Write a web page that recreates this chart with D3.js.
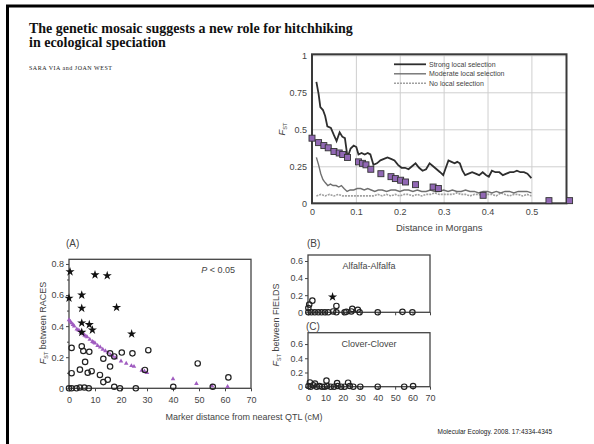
<!DOCTYPE html>
<html>
<head>
<meta charset="utf-8">
<script src="https://d3js.org/d3.v7.min.js"></script>
<style>
  body { margin: 0; background: #fff; }
  svg { display: block; font-family: "Liberation Sans", Arial, sans-serif; }
</style>
</head>
<body>
<div id="chart"></div>
<script>
// ---------- data ----------
const titleLines = [
  'The genetic mosaic suggests a new role for hitchhiking',
  'in ecological speciation'
];
const authors = 'SARA VIA and JOAN WEST';
const citation = 'Molecular Ecology. 2008. 17:4334-4345';

// top panel: simulated FST vs distance (Morgans)
const legendLabels = ['Strong local selection', 'Moderate local selection', 'No local selection'];
const strongSel = [
  [0.010, 0.82], [0.015, 0.74], [0.019, 0.65], [0.025, 0.63], [0.030, 0.59], [0.035, 0.52],
  [0.043, 0.51], [0.050, 0.46], [0.056, 0.42], [0.063, 0.48], [0.069, 0.45], [0.075, 0.44],
  [0.081, 0.31], [0.088, 0.37], [0.095, 0.39], [0.101, 0.38], [0.106, 0.33], [0.113, 0.34],
  [0.120, 0.33], [0.127, 0.34], [0.133, 0.33], [0.140, 0.26], [0.148, 0.27], [0.156, 0.29],
  [0.164, 0.30], [0.172, 0.31], [0.180, 0.30], [0.188, 0.29], [0.196, 0.26], [0.204, 0.24],
  [0.212, 0.24], [0.220, 0.23], [0.228, 0.25], [0.236, 0.27], [0.244, 0.24], [0.252, 0.22],
  [0.260, 0.23], [0.268, 0.27], [0.276, 0.25], [0.284, 0.23], [0.292, 0.21], [0.299, 0.19],
  [0.305, 0.24], [0.311, 0.29], [0.318, 0.28], [0.325, 0.27], [0.331, 0.28], [0.337, 0.27],
  [0.343, 0.22], [0.349, 0.19], [0.357, 0.20], [0.365, 0.21], [0.373, 0.20], [0.381, 0.19],
  [0.389, 0.21], [0.397, 0.19], [0.403, 0.18], [0.410, 0.22], [0.418, 0.21], [0.427, 0.21],
  [0.435, 0.19], [0.443, 0.20], [0.451, 0.21], [0.459, 0.21], [0.467, 0.22], [0.475, 0.21],
  [0.483, 0.21], [0.491, 0.20], [0.500, 0.17]
];
const moderateSel = [
  [0.010, 0.31], [0.015, 0.26], [0.020, 0.20], [0.025, 0.16], [0.030, 0.14], [0.036, 0.12],
  [0.042, 0.13], [0.048, 0.12], [0.055, 0.12], [0.061, 0.11], [0.067, 0.12], [0.073, 0.10],
  [0.080, 0.08], [0.087, 0.09], [0.095, 0.09], [0.103, 0.10], [0.111, 0.10], [0.119, 0.09],
  [0.127, 0.10], [0.135, 0.09], [0.143, 0.08], [0.151, 0.09], [0.160, 0.09], [0.170, 0.08],
  [0.180, 0.09], [0.190, 0.09], [0.200, 0.08], [0.210, 0.09], [0.220, 0.09], [0.230, 0.08],
  [0.240, 0.09], [0.250, 0.08], [0.260, 0.08], [0.270, 0.09], [0.280, 0.08], [0.290, 0.08],
  [0.300, 0.09], [0.310, 0.08], [0.320, 0.09], [0.330, 0.08], [0.340, 0.08], [0.350, 0.09],
  [0.360, 0.08], [0.370, 0.08], [0.380, 0.07], [0.390, 0.08], [0.400, 0.08], [0.410, 0.07],
  [0.420, 0.08], [0.430, 0.07], [0.440, 0.08], [0.450, 0.08], [0.460, 0.07], [0.470, 0.08],
  [0.480, 0.08], [0.490, 0.08], [0.500, 0.07]
];
const noSel = [
  [0.010, 0.05], [0.020, 0.06], [0.030, 0.05], [0.040, 0.06], [0.050, 0.05], [0.060, 0.06],
  [0.070, 0.05], [0.080, 0.05], [0.090, 0.05], [0.100, 0.05], [0.110, 0.05], [0.120, 0.05],
  [0.130, 0.05], [0.140, 0.05], [0.150, 0.06], [0.160, 0.05], [0.170, 0.06], [0.180, 0.05],
  [0.190, 0.06], [0.200, 0.05], [0.210, 0.06], [0.220, 0.06], [0.230, 0.05], [0.240, 0.06],
  [0.250, 0.05], [0.260, 0.06], [0.270, 0.06], [0.280, 0.07], [0.290, 0.06], [0.300, 0.06],
  [0.310, 0.06], [0.320, 0.06], [0.330, 0.07], [0.340, 0.06], [0.350, 0.06], [0.360, 0.05],
  [0.370, 0.06], [0.380, 0.06], [0.390, 0.05], [0.400, 0.06], [0.410, 0.06], [0.420, 0.05],
  [0.430, 0.07], [0.440, 0.06], [0.450, 0.05], [0.460, 0.06], [0.470, 0.06], [0.480, 0.05],
  [0.490, 0.06], [0.500, 0.05]
];
const markerDistM = [0, 0.015, 0.027, 0.037, 0.05, 0.062, 0.07, 0.081, 0.106, 0.115, 0.123,
  0.134, 0.157, 0.18, 0.19, 0.202, 0.213, 0.236, 0.276, 0.288, 0.39, 0.54, 0.587];
const markerFst = [0.44, 0.41, 0.39, 0.375, 0.35, 0.34, 0.33, 0.31, 0.28, 0.27, 0.26,
  0.23, 0.20, 0.18, 0.167, 0.156, 0.144, 0.126, 0.11, 0.10, 0.054, 0.018, 0.018];
const topXTicks = [0, 0.1, 0.2, 0.3, 0.4, 0.5];
const topYTicks = [0, 0.25, 0.5, 0.75, 1];

// panel A: FST between races vs distance to QTL (cM)
const racesSig = [
  [0.4, 0.75], [0, 0.58], [4.9, 0.60], [4.9, 0.515], [4.9, 0.42], [4.9, 0.36], [7.8, 0.41],
  [9, 0.375], [10, 0.73], [14.7, 0.725], [18.3, 0.52], [24.1, 0.35]
];
const racesNs = [
  [1, 0.26], [4.9, 0.27], [5.5, 0.24], [7.8, 0.235], [1, 0.097], [4.2, 0.12], [6.2, 0.17],
  [7.2, 0.10], [8.7, 0.11], [11.9, 0.086], [13.2, 0.04], [14.9, 0.055], [13.2, 0.19],
  [15.8, 0.14], [15.8, 0.225], [17.4, 0.205], [20.3, 0.23], [24.4, 0.225], [30.5, 0.245],
  [29.2, 0.118], [17.4, 0.01], [19.6, 0], [25.7, 0], [0, 0], [1, 0], [2.9, 0], [4.2, 0.005],
  [5.9, 0.005], [7.6, 0], [40.1, 0.01], [49.5, 0.16], [55.3, 0.01], [61.3, 0.07]
];
const expectedCm = [0, 0.5, 1, 1.5, 2, 3, 3.5, 4, 4.5, 5, 5.5, 6, 6.5, 7, 8, 9, 9.5, 10, 11,
  12, 13, 14, 15, 16, 17, 18, 20, 22, 24, 25, 28, 29, 30, 40, 49, 55, 61];
const expectedFst = [0.44, 0.43, 0.42, 0.41, 0.40, 0.38, 0.375, 0.37, 0.36, 0.355, 0.35, 0.34,
  0.335, 0.33, 0.315, 0.30, 0.295, 0.29, 0.275, 0.265, 0.25, 0.24, 0.23, 0.215, 0.205, 0.195,
  0.175, 0.16, 0.145, 0.14, 0.115, 0.11, 0.10, 0.06, 0.03, 0.015, 0.01];
const cmTicks = [0, 10, 20, 30, 40, 50, 60, 70];
const racesYTicks = [0, 0.2, 0.4, 0.6, 0.8];
const racesYMinor = [0.1, 0.3, 0.5, 0.7];

// panels B and C: FST between fields
const alfalfaSig = [[14.1, 0.18]];
const alfalfaNs = [
  [2.5, 0.136], [0.7, 0.09], [0.2, 0.05], [16.3, 0.074], [25.4, 0.04], [28.6, 0.03], [0.2, 0],
  [2, 0], [3.9, 0], [5.9, 0], [7.8, 0], [9.7, 0], [11.6, 0], [14.4, 0.01], [16.3, 0], [21, 0],
  [22, 0.005], [24.9, 0.01], [29.6, 0], [40, 0], [54.2, 0.005], [59.9, 0]
];
const cloverNs = [
  [1.1, 0.06], [4, 0.045], [10.6, 0.085], [16.7, 0.05], [23, 0.056], [0.3, 0.01], [1.5, 0],
  [3, 0.02], [5, 0], [6.5, 0.01], [8, 0], [9.5, 0], [11, 0.01], [13, 0], [15, 0], [17, 0.01],
  [19, 0], [21, 0], [24, 0.01], [26, 0], [30, 0], [40, 0], [55.2, 0], [60.3, 0.01]
];
const fieldYTicks = [0, 0.2, 0.4, 0.6];

// ---------- drawing ----------
const W = 594, H = 444;
const fmt = d3.format('~g');
const purple = '#a05cc0';

const svg = d3.select('#chart').append('svg')
  .attr('width', W)
  .attr('height', H);

svg.append('rect').attr('width', W).attr('height', H).attr('fill', '#fff');

// slide frame (top and left edges)
svg.append('path')
  .attr('d', `M${W},6 H7.5 V${H}`)
  .attr('fill', 'none')
  .attr('stroke', '#000')
  .attr('stroke-width', 3);

// header
svg.append('g').selectAll('text')
  .data(titleLines)
  .enter()
  .append('text')
  .attr('x', 29)
  .attr('y', (d, i) => 33.3 + i * 13.6)
  .attr('font-family', '"Liberation Serif", "Times New Roman", serif')
  .attr('font-weight', 'bold')
  .attr('font-size', 14)
  .attr('fill', '#111')
  .text(d => d);

svg.append('text')
  .attr('x', 29)
  .attr('y', 70)
  .attr('font-family', '"Liberation Serif", "Times New Roman", serif')
  .attr('font-size', 6)
  .attr('textLength', 83)
  .attr('lengthAdjust', 'spacing')
  .attr('fill', '#222')
  .text(authors);

svg.append('text')
  .attr('x', 552)
  .attr('y', 434)
  .attr('text-anchor', 'end')
  .attr('font-size', 6.5)
  .attr('fill', '#222')
  .text(citation);

function styleAxis(g, fontSize) {
  g.select('.domain').remove();
  g.selectAll('text')
    .attr('font-size', fontSize)
    .attr('font-family', '"Liberation Sans", Arial, sans-serif')
    .attr('fill', '#444');
}

function fstLabel(g, x, y, rest, fontSize) {
  const t = g.append('text')
    .attr('transform', `translate(${x},${y}) rotate(-90)`)
    .attr('text-anchor', 'middle')
    .attr('font-size', fontSize)
    .attr('fill', '#444');
  t.append('tspan').attr('font-style', 'italic').text('F');
  t.append('tspan').attr('font-size', fontSize * 0.6).attr('dy', fontSize * 0.25).text('ST');
  t.append('tspan').attr('dy', -fontSize * 0.25).text(rest);
}

// ---- top panel ----
const tx = d3.scaleLinear().domain([0, 0.58]).range([312, 566.5]);
const ty = d3.scaleLinear().domain([0, 1]).range([203.3, 55.3]);
const topG = svg.append('g').attr('class', 'top-panel');

topG.append('g')
  .attr('transform', `translate(0,${ty(0)})`)
  .call(d3.axisBottom(tx).tickValues(topXTicks).tickFormat(fmt)
    .tickSize(-(ty(0) - ty(1))).tickPadding(5))
  .call(g => styleAxis(g, 9))
  .call(g => g.selectAll('line').attr('stroke', '#cfcfcf'));

topG.append('g')
  .attr('transform', `translate(${tx(0)},0)`)
  .call(d3.axisLeft(ty).tickValues(topYTicks).tickFormat(fmt)
    .tickSize(-(tx(0.58) - tx(0))).tickPadding(5))
  .call(g => styleAxis(g, 9))
  .call(g => g.selectAll('line').attr('stroke', '#cfcfcf'));

topG.append('rect')
  .attr('x', tx(0))
  .attr('y', ty(1) - 1)
  .attr('width', tx(0.58) - tx(0))
  .attr('height', ty(0) - ty(1) + 1)
  .attr('fill', 'none')
  .attr('stroke', '#3a3a3a')
  .attr('stroke-width', 2);

const line = d3.line().x(d => tx(d[0])).y(d => ty(d[1]));
const lineStyles = [
  { data: strongSel, color: '#2e2e2e', width: 1.8, dash: null },
  { data: moderateSel, color: '#707070', width: 1.4, dash: null },
  { data: noSel, color: '#a0a0a0', width: 1.6, dash: '2,1' }
];

topG.append('g').selectAll('path')
  .data(lineStyles.slice().reverse())
  .enter()
  .append('path')
  .attr('d', d => line(d.data))
  .attr('fill', 'none')
  .attr('stroke', d => d.color)
  .attr('stroke-width', d => d.width)
  .attr('stroke-dasharray', d => d.dash);

topG.append('g').selectAll('rect')
  .data(markerDistM)
  .enter()
  .append('rect')
  .attr('x', d => tx(d) - 3)
  .attr('y', (d, i) => ty(markerFst[i]) - 3)
  .attr('width', 6)
  .attr('height', 6)
  .attr('fill', '#9168b4')
  .attr('stroke', '#333')
  .attr('stroke-width', 0.9);

const legend = topG.append('g').attr('class', 'legend');
legendLabels.forEach((label, i) => {
  const y = 64.3 + i * 9.5;
  legend.append('line')
    .attr('x1', 394).attr('x2', 426)
    .attr('y1', y).attr('y2', y)
    .attr('stroke', lineStyles[i].color)
    .attr('stroke-width', lineStyles[i].width)
    .attr('stroke-dasharray', lineStyles[i].dash);
  legend.append('text')
    .attr('x', 429)
    .attr('y', y)
    .attr('dy', '0.35em')
    .attr('font-size', 7)
    .attr('fill', '#444')
    .text(label);
});

fstLabel(topG, 285, 129, '', 9.5);
topG.append('text')
  .attr('x', (tx(0) + tx(0.58)) / 2)
  .attr('y', 231)
  .attr('text-anchor', 'middle')
  .attr('font-size', 9.5)
  .attr('fill', '#444')
  .text('Distance in Morgans');

// ---- shared helpers for scatter panels ----
const star = d3.symbol().type(d3.symbolStar).size(26);
const tri = d3.symbol().type(d3.symbolTriangle).size(9);

function scatterPanel(opts) {
  const g = svg.append('g');
  const x = opts.x, y = opts.y;
  const [x0, x1] = x.range();
  const [y0, y1] = y.range();

  g.append('rect')
    .attr('x', x0).attr('y', y1)
    .attr('width', x1 - x0).attr('height', y0 - y1)
    .attr('fill', 'none')
    .attr('stroke', '#444')
    .attr('stroke-width', 1.3);

  const yAxis = d3.axisLeft(y).tickValues(opts.yTicks).tickFormat(fmt).tickSize(3).tickPadding(2);
  g.append('g')
    .attr('transform', `translate(${x0},0)`)
    .call(yAxis)
    .call(a => styleAxis(a, 9))
    .call(a => a.selectAll('line').attr('stroke', '#444'));

  if (opts.yMinor) {
    g.append('g')
      .attr('transform', `translate(${x0},0)`)
      .call(d3.axisLeft(y).tickValues(opts.yMinor).tickFormat('').tickSize(2))
      .call(a => a.select('.domain').remove())
      .call(a => a.selectAll('line').attr('stroke', '#444'));
  }

  g.append('g')
    .attr('transform', `translate(0,${y0})`)
    .call(d3.axisBottom(x).tickValues(cmTicks).tickFormat(opts.xLabels ? fmt : '')
      .tickSize(3).tickPadding(5))
    .call(a => styleAxis(a, 9))
    .call(a => a.selectAll('line').attr('stroke', '#444'));

  if (opts.expected) {
    g.append('g').selectAll('path')
      .data(opts.expected[0])
      .enter()
      .append('path')
      .attr('d', tri)
      .attr('transform', (d, i) => `translate(${x(d)},${y(opts.expected[1][i])})`)
      .attr('fill', purple);
  }

  g.append('g').selectAll('circle')
    .data(opts.open)
    .enter()
    .append('circle')
    .attr('cx', d => x(d[0]))
    .attr('cy', d => y(d[1]))
    .attr('r', 2.7)
    .attr('fill', 'none')
    .attr('stroke', '#222')
    .attr('stroke-width', 1.2);

  g.append('g').selectAll('path')
    .data(opts.stars || [])
    .enter()
    .append('path')
    .attr('d', star)
    .attr('transform', d => `translate(${x(d[0])},${y(d[1])})`)
    .attr('fill', '#111');

  return g;
}

// ---- panel A ----
const ax = d3.scaleLinear().domain([0, 70]).range([69, 251]);
const ay = d3.scaleLinear().domain([0, 0.83]).range([388.3, 259.3]);
const panelA = scatterPanel({
  x: ax, y: ay, yTicks: racesYTicks, yMinor: racesYMinor, xLabels: true,
  open: racesNs, stars: racesSig, expected: [expectedCm, expectedFst]
});
panelA.append('text').attr('x', 66).attr('y', 246.5).attr('font-size', 10).attr('fill', '#444').text('(A)');
const pText = panelA.append('text').attr('x', 235).attr('y', 273).attr('text-anchor', 'end')
  .attr('font-size', 9).attr('fill', '#444');
pText.append('tspan').attr('font-style', 'italic').text('P');
pText.append('tspan').text(' < 0.05');
fstLabel(panelA, 46, 323, ' between RACES', 9);

// ---- panels B and C ----
const bx = d3.scaleLinear().domain([0, 70]).range([308, 430]);
const byB = d3.scaleLinear().domain([0, 0.67]).range([312.3, 255]);
const byC = d3.scaleLinear().domain([0, 0.76]).range([386.7, 332.7]);

const panelB = scatterPanel({
  x: bx, y: byB, yTicks: fieldYTicks, xLabels: false, open: alfalfaNs, stars: alfalfaSig
});
panelB.append('text').attr('x', 307).attr('y', 246.5).attr('font-size', 10).attr('fill', '#444').text('(B)');
panelB.append('text').attr('x', 369).attr('y', 268.5).attr('text-anchor', 'middle')
  .attr('font-size', 9).attr('fill', '#444').text('Alfalfa-Alfalfa');

const panelC = scatterPanel({
  x: bx, y: byC, yTicks: fieldYTicks, xLabels: true, open: cloverNs
});
panelC.append('text').attr('x', 306).attr('y', 330).attr('font-size', 10).attr('fill', '#444').text('(C)');
panelC.append('text').attr('x', 369).attr('y', 346.5).attr('text-anchor', 'middle')
  .attr('font-size', 9).attr('fill', '#444').text('Clover-Clover');
fstLabel(panelC, 279, 325, ' between FIELDS', 9);

svg.append('text')
  .attr('x', 244)
  .attr('y', 420)
  .attr('text-anchor', 'middle')
  .attr('font-size', 9)
  .attr('fill', '#444')
  .text('Marker distance from nearest QTL (cM)');
</script>
</body>
</html>
